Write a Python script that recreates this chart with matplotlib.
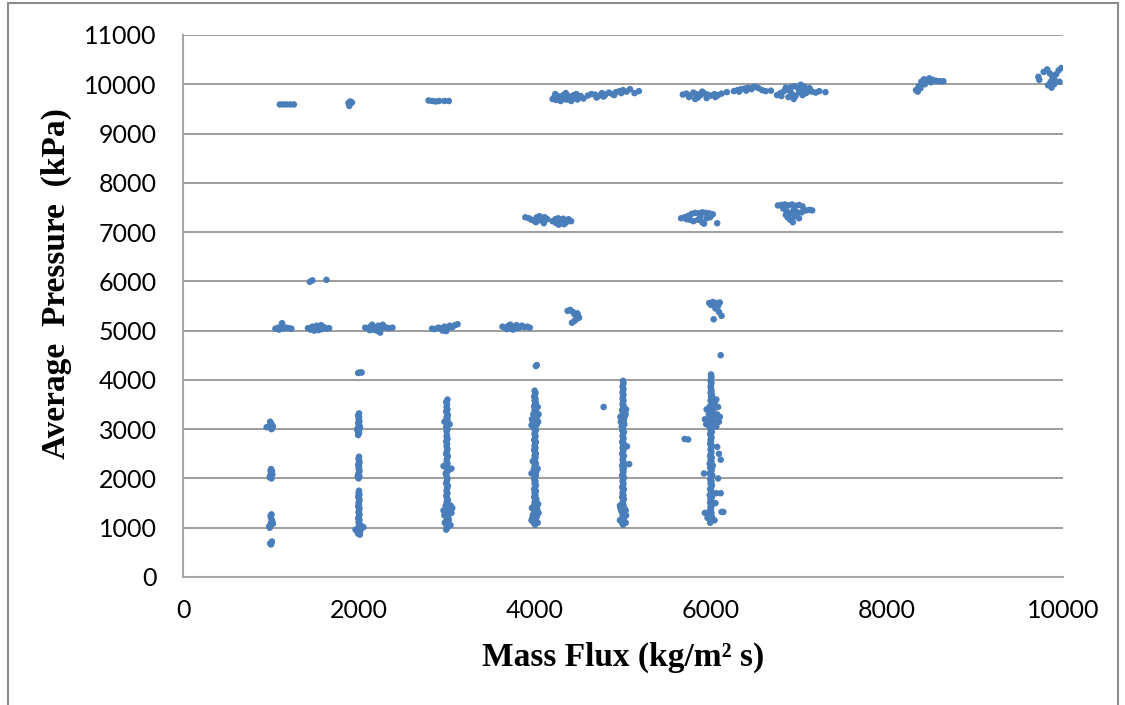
import matplotlib
matplotlib.use("Agg")
import matplotlib.pyplot as plt
from matplotlib.patches import Rectangle

# Axis setup
x_ticks = [0, 2000, 4000, 6000, 8000, 10000]
y_ticks = [0, 1000, 2000, 3000, 4000, 5000, 6000, 7000, 8000, 9000, 10000, 11000]

# (mass flux, average pressure) points, grouped by cluster
col_1000 = [(950, 3040), (980, 3050), (1000, 3030), (1010, 3080), (1000, 3120), (990, 3150), (1020, 3060),
            (1005, 3000), (995, 3100), (1015, 3020),
            (990, 2050), (1000, 2100), (1010, 2150), (1000, 2190), (985, 2020), (1015, 2080), (1005, 2000), (995, 2160),
            (990, 1050), (1000, 1100), (1010, 1150), (1000, 1200), (1005, 1270), (985, 1000), (1015, 1120),
            (995, 1240), (1000, 1060), (1020, 1080), (980, 1030),
            (990, 680), (1005, 700), (1000, 660), (1010, 720)]

col_2000 = [(1990, 2880), (2000, 2920), (1985, 2960), (2005, 3000), (1995, 3040), (2000, 3080), (1990, 3120),
            (2005, 3160), (1995, 3200), (2000, 3240), (1990, 3280), (2000, 3320), (2010, 3050), (1980, 3000),
            (1995, 2000), (2005, 2040), (1990, 2080), (2000, 2120), (2005, 2160), (1995, 2200), (2000, 2240),
            (1990, 2280), (2005, 2320), (2000, 2360), (1995, 2400), (2000, 2440), (1985, 2030),
            (2000, 1750), (1995, 1710), (2005, 1670), (1990, 1630), (2000, 1590), (2005, 1550), (1995, 1510),
            (2000, 1470), (1990, 1430), (2005, 1390), (2000, 1350), (1995, 1310), (2005, 1270), (2000, 1230),
            (1990, 1190), (2005, 1150), (1995, 1110), (2000, 1070), (2010, 1030), (1990, 990), (2030, 1000),
            (2050, 1010), (1960, 960), (1980, 920), (2000, 900), (2010, 860), (1990, 880), (2015, 940),
            (2000, 970), (2025, 1040),
            (1990, 4140), (2010, 4150), (2030, 4150)]

col_3000 = [(2990, 960), (3005, 1000), (2995, 1040), (3010, 1080), (2985, 1120), (3000, 1160), (3015, 1200),
            (2995, 1240), (3005, 1280), (2990, 1320), (3010, 1360), (3000, 1400), (2985, 1440), (3005, 1480),
            (2995, 1520), (3010, 1560), (3000, 1600), (2990, 1650), (3005, 1700), (2995, 1750), (3000, 1800),
            (3010, 1850), (2990, 1900), (3000, 1950), (3005, 2000), (2995, 2050), (2985, 2100), (3010, 2150),
            (3000, 2200), (2990, 2250), (3005, 2300), (2995, 2350), (3000, 2400), (3010, 2450), (2990, 2500),
            (3000, 2550), (3005, 2600), (2995, 2650), (3000, 2700), (2990, 2750), (3005, 2800), (2995, 2850),
            (3000, 2880), (2995, 2960), (3005, 3000), (2990, 3040), (3010, 3080), (3000, 3120), (2985, 3160),
            (3005, 3200), (2995, 3240), (3010, 3280), (3000, 3320), (2990, 3360), (3005, 3400), (2995, 3450),
            (3000, 3500), (2990, 3550), (3005, 3600),
            (3050, 1300), (3060, 1400), (2960, 1350), (3040, 1450), (2970, 1250), (3050, 2200), (2960, 2250),
            (3030, 3100), (2970, 3150), (3020, 1150), (2975, 1100), (3040, 1050), (3045, 1330)]

col_4000 = [(4000, 1060), (3985, 1100), (4010, 1140), (3995, 1180), (4020, 1220), (3975, 1260), (4005, 1300),
            (3990, 1340), (4025, 1380), (3980, 1420), (4010, 1460), (3995, 1500), (4000, 1540), (4015, 1580),
            (3990, 1620), (4005, 1660), (3995, 1700), (4010, 1740), (3990, 1780), (4000, 1820), (4010, 1860),
            (3995, 1900), (4005, 1940), (3990, 1980), (4000, 2020), (4010, 2060), (3995, 2100), (4015, 2140),
            (3985, 2180), (4005, 2220), (3995, 2260), (4010, 2300), (4000, 2340), (3990, 2380), (4005, 2420),
            (3995, 2460), (4010, 2500), (4000, 2540), (3990, 2580), (4005, 2620), (3995, 2660), (4000, 2700),
            (4010, 2740), (3990, 2780), (4000, 2820), (4005, 2860), (3995, 2900), (4000, 2940), (4010, 2980),
            (3985, 3020), (4005, 3060), (4020, 3100), (3975, 3140), (4010, 3180), (3990, 3220), (4025, 3260),
            (3980, 3300), (4015, 3340), (3995, 3380), (4005, 3420), (3990, 3460), (4000, 3500), (4010, 3540),
            (3995, 3580), (4005, 3620), (3990, 3660), (4000, 3700), (4005, 3740), (3995, 3780),
            (3960, 1150), (4040, 1300), (3965, 1400), (4035, 1480), (3970, 1200), (4030, 1100), (3975, 2350),
            (4030, 2200), (3960, 2100), (3965, 3200), (4040, 3300), (3960, 3080), (4035, 3150), (4030, 3450),
            (4020, 4300), (4010, 4280)]

col_5000 = [(5000, 1060), (4990, 1100), (5010, 1140), (4985, 1180), (5015, 1220), (4995, 1260), (5005, 1300),
            (4980, 1340), (5020, 1380), (4990, 1420), (5005, 1460), (4995, 1500), (5000, 1540), (5010, 1580),
            (4990, 1620), (5005, 1660), (4995, 1700), (5000, 1740), (5010, 1780), (4990, 1820), (5000, 1860),
            (5005, 1900), (4995, 1940), (5000, 1980), (5010, 2020), (4990, 2060), (5000, 2100), (5005, 2140),
            (4995, 2180), (5010, 2220), (4990, 2260), (5000, 2300), (5005, 2340), (4995, 2380), (5000, 2420),
            (5010, 2460), (4990, 2500), (5000, 2540), (5005, 2580), (4995, 2620), (5000, 2660), (5010, 2700),
            (4990, 2740), (5000, 2780), (5005, 2820), (4995, 2860), (5000, 2900), (5010, 2940), (4990, 2980),
            (5000, 3020), (4985, 3060), (5015, 3100), (4990, 3140), (5010, 3180), (4985, 3220), (5020, 3260),
            (4995, 3300), (5005, 3340), (4990, 3380), (5000, 3420), (5010, 3460), (4995, 3500), (5000, 3540),
            (5005, 3580), (4995, 3620), (5000, 3660), (5005, 3700), (4995, 3740), (5000, 3780), (5005, 3820),
            (4995, 3860), (5000, 3900), (5005, 3940), (5000, 3980),
            (4965, 1150), (5035, 1250), (4970, 1400), (5030, 1100), (5045, 2650), (4975, 3150), (5030, 3300),
            (4970, 3250), (5035, 3400), (5030, 1350), (5070, 2290), (4965, 1450)]

col_6000 = [(5990, 1100), (6000, 1140), (5980, 1180), (6010, 1220), (5990, 1260), (6005, 1300), (5985, 1340),
            (6000, 1380), (5995, 1420), (6010, 1460), (5990, 1500), (6000, 1540), (5995, 1580), (6010, 1620),
            (5985, 1660), (6000, 1700), (6005, 1740), (5990, 1780), (6000, 1820), (6010, 1860), (5995, 1900),
            (6005, 1940), (5990, 1980), (6000, 2020), (6015, 2060), (5985, 2100), (6000, 2140), (6010, 2180),
            (5990, 2220), (6020, 2260), (5985, 2300), (6005, 2340), (5995, 2380), (6010, 2420), (5990, 2460),
            (6000, 2500), (6005, 2540), (5995, 2580), (6000, 2620), (6010, 2660), (5990, 2700), (6000, 2740),
            (5995, 2780), (6005, 2820), (6000, 2860), (5990, 2900), (6010, 2940), (5995, 2980), (6005, 3020),
            (5980, 3060), (6020, 3100), (5970, 3140), (6030, 3180), (5985, 3220), (6040, 3260), (5975, 3300),
            (6020, 3340), (5990, 3380), (6035, 3420), (5985, 3460), (6010, 3500), (6040, 3540), (5995, 3580),
            (6025, 3620), (6000, 3660), (6010, 3700), (5995, 3740), (6005, 3780), (6000, 3820), (5995, 3860),
            (6000, 3900), (6005, 3940), (5995, 3980), (6000, 4020), (6005, 4060), (6000, 4110),
            (5930, 3200), (6070, 3300), (6090, 3150), (5950, 3400), (6080, 3450), (6060, 3600), (5945, 3100),
            (6100, 3250), (6060, 3050), (6070, 2640), (6090, 2500), (6110, 2380), (5920, 2100), (6080, 2000),
            (6060, 1700), (6110, 1700), (5930, 1300), (6120, 1320), (6140, 1320), (6050, 1500), (5960, 1200),
            (6040, 1150), (6110, 4500), (5700, 2800), (5740, 2790), (4780, 3450)]

band_5000 = [(1050, 5040), (1080, 5060), (1110, 5050), (1140, 5040), (1170, 5060), (1200, 5050), (1230, 5040),
             (1125, 5150), (1090, 5020),
             (1420, 5050), (1450, 5020), (1470, 5080), (1500, 5040), (1520, 5100), (1550, 5060), (1580, 5030),
             (1600, 5070), (1630, 5040), (1660, 5050), (1490, 5000), (1540, 5010), (1570, 5110),
             (2070, 5060), (2100, 5040), (2130, 5080), (2160, 5020), (2190, 5060), (2220, 5100), (2250, 5040),
             (2280, 5080), (2310, 5060), (2340, 5050), (2150, 5120), (2200, 5000), (2240, 4960), (2380, 5060),
             (2120, 5010), (2270, 5120),
             (2830, 5040), (2860, 5030), (2900, 5060), (2940, 5020), (2970, 5080), (3000, 5040), (3030, 5100),
             (3060, 5070), (3090, 5110), (3120, 5130), (2950, 5000), (2990, 4990), (3010, 5060), (2920, 5050),
             (3630, 5080), (3660, 5060), (3700, 5100), (3730, 5040), (3760, 5080), (3790, 5110), (3820, 5060),
             (3850, 5100), (3880, 5070), (3910, 5080), (3940, 5060), (3680, 5030), (3750, 5020), (3800, 5050),
             (3720, 5120),
             (1440, 5990), (1470, 6020), (1630, 6030),
             (4370, 5400), (4400, 5420), (4430, 5380), (4450, 5330), (4490, 5300), (4500, 5260), (4470, 5230),
             (4420, 5160), (4450, 5200), (4480, 5350),
             (5980, 5560), (6020, 5580), (6060, 5560), (6100, 5570), (6080, 5500), (6050, 5450), (6090, 5380),
             (6120, 5300), (6030, 5230), (6000, 5520)]

band_7000 = [(3890, 7300), (3930, 7280), (3960, 7250), (3990, 7230), (4020, 7300), (4050, 7320), (4080, 7290),
             (4110, 7300), (4140, 7260), (4060, 7240), (4010, 7200), (4100, 7180), (4040, 7270),
             (4200, 7220), (4230, 7260), (4260, 7280), (4290, 7250), (4320, 7270), (4350, 7240), (4380, 7260),
             (4410, 7220), (4240, 7180), (4300, 7200), (4350, 7190), (4270, 7150), (4330, 7160),
             (5660, 7280), (5700, 7300), (5740, 7330), (5780, 7370), (5820, 7390), (5860, 7380), (5900, 7400),
             (5940, 7390), (5980, 7380), (6020, 7360), (5760, 7250), (5800, 7220), (5850, 7250), (5900, 7200),
             (5950, 7280), (5880, 7320), (5990, 7300), (6070, 7180), (5920, 7170), (5720, 7260),
             (6760, 7540), (6800, 7550), (6840, 7560), (6880, 7540), (6920, 7560), (6960, 7530), (7000, 7550),
             (7040, 7520), (7080, 7440), (7120, 7450), (7150, 7440), (6820, 7480), (6860, 7420), (6900, 7380),
             (6940, 7450), (6980, 7400), (6870, 7300), (6900, 7250), (6950, 7320), (7000, 7280), (6850, 7350),
             (7030, 7400), (6930, 7200)]

band_10000 = [(1100, 9590), (1140, 9590), (1180, 9590), (1220, 9590), (1260, 9590),
              (1880, 9620), (1900, 9650), (1920, 9630), (1890, 9560),
              (2790, 9670), (2830, 9660), (2870, 9650), (2910, 9660), (2970, 9660), (3020, 9660),
              (4200, 9700), (4220, 9740), (4240, 9680), (4260, 9760), (4280, 9720), (4300, 9700), (4320, 9780),
              (4340, 9740), (4360, 9690), (4380, 9760), (4400, 9720), (4420, 9700), (4440, 9780), (4460, 9740),
              (4480, 9690), (4500, 9730), (4520, 9760), (4550, 9710), (4230, 9800), (4290, 9660), (4350, 9820),
              (4410, 9660), (4470, 9800), (4250, 9720), (4330, 9700), (4390, 9730),
              (4600, 9770), (4640, 9800), (4680, 9790), (4720, 9760), (4760, 9820), (4800, 9790), (4840, 9830),
              (4880, 9800), (4920, 9840), (4960, 9860), (5000, 9880), (5040, 9850), (5080, 9900), (4700, 9730),
              (4780, 9750), (4900, 9780), (4980, 9820), (5130, 9820), (5180, 9860),
              (5680, 9790), (5720, 9810), (5760, 9770), (5800, 9830), (5840, 9800), (5880, 9780), (5920, 9820),
              (5960, 9790), (6000, 9770), (6040, 9800), (6080, 9780), (6120, 9810), (5750, 9740), (5850, 9730),
              (5950, 9720), (6050, 9740), (5900, 9850), (6180, 9840), (5820, 9700),
              (6260, 9860), (6300, 9880), (6340, 9900), (6380, 9910), (6420, 9930), (6460, 9900), (6500, 9950),
              (6540, 9920), (6580, 9880), (6620, 9860), (6680, 9870), (6320, 9850), (6400, 9870), (6480, 9940),
              (6750, 9780), (6790, 9820), (6830, 9860), (6870, 9900), (6910, 9940), (6950, 9960), (6990, 9920),
              (7030, 9900), (7070, 9880), (7110, 9860), (7150, 9850), (7190, 9830), (7230, 9860), (7300, 9840),
              (6800, 9760), (6880, 9740), (6920, 9800), (6960, 9760), (7000, 9840), (7040, 9780), (7080, 9820),
              (7120, 9920), (6850, 9930), (6940, 9700), (7020, 9990), (6900, 9860), (7060, 9950),
              (8330, 9880), (8360, 9960), (8390, 10050), (8420, 10100), (8450, 10080), (8480, 10120),
              (8520, 10090), (8560, 10070), (8600, 10060), (8640, 10060), (8380, 9920), (8350, 9850),
              (8430, 10000), (8500, 10040),
              (9720, 10150), (9730, 10090), (9780, 10250), (9820, 10300), (9850, 10220), (9880, 10150),
              (9900, 10100), (9830, 9980), (9870, 9930), (9920, 10200), (9950, 10280), (9980, 10330),
              (9960, 10050), (9900, 10000), (9860, 10050)]

clusters = [col_1000, col_2000, col_3000, col_4000, col_5000, col_6000, band_5000, band_7000, band_10000]

fig = plt.figure(figsize=(11.25, 7.05), dpi=100)
ax = fig.add_axes([0.1627, 0.1816, 0.7822, 0.7688])

for pts in clusters:
    xs = [p[0] for p in pts]
    ys = [p[1] for p in pts]
    ax.scatter(xs, ys, s=22, color="#4a7ebb", edgecolors="none", zorder=3)

ax.set_xlim(0, 10000)
ax.set_ylim(0, 11000)
ax.set_xticks(x_ticks)
ax.set_yticks(y_ticks)
ax.grid(axis="y", color="#8c8c8c", linewidth=1.2)
ax.set_axisbelow(True)
for side in ["top", "right"]:
    ax.spines[side].set_visible(False)
for side in ["left", "bottom"]:
    ax.spines[side].set_color("#a6a6a6")
    ax.spines[side].set_linewidth(1.5)
ax.tick_params(length=0, labelsize=18, colors="black")
ax.tick_params(axis="y", pad=19)
ax.tick_params(axis="x", pad=16)
for lab in ax.get_xticklabels() + ax.get_yticklabels():
    lab.set_fontfamily("Lato")

ax.set_xlabel("Mass Flux (kg/m² s)", fontsize=24, fontweight="bold", fontfamily="Liberation Serif")
ax.set_ylabel("Average  Pressure  (kPa)", fontsize=24, fontweight="bold", fontfamily="Liberation Serif")
ax.xaxis.set_label_coords(0.5, -0.12)
ax.yaxis.set_label_coords(-0.126, 0.542)

# outer chart-area border
fig.patches.append(Rectangle((8 / 1125, -0.05), 1110 / 1125, 1.05 - 3 / 705, transform=fig.transFigure,
                             fill=False, edgecolor="#8c8c8c", linewidth=1.5))

fig.savefig("out.png", dpi=100)
